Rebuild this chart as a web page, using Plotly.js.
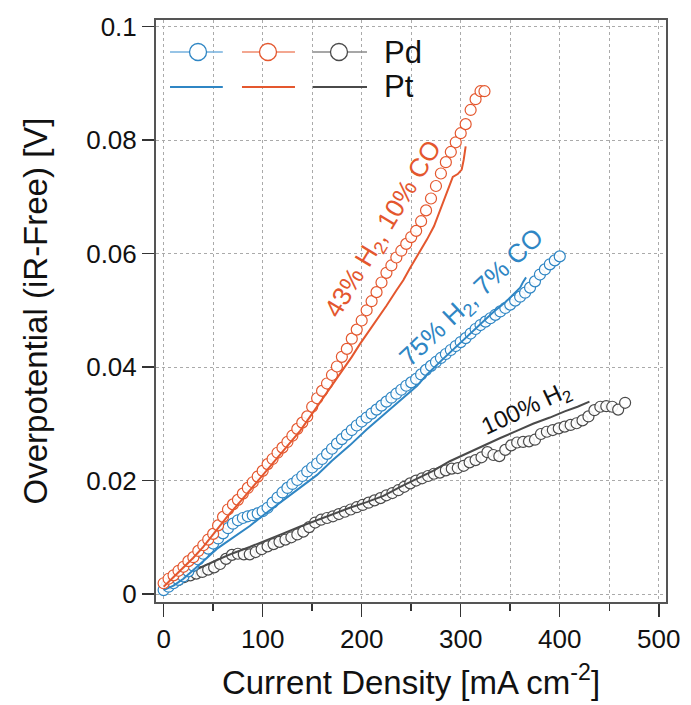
<!DOCTYPE html>
<html><head><meta charset="utf-8">
<script src="https://cdn.plot.ly/plotly-3.0.1.min.js"></script>
<style>html,body{margin:0;padding:0;background:#fff;}#chart{width:691px;height:705px;}</style>
</head><body><div id="chart"></div>
<script>
// ---- data ----
const orangePdX = [0,5,10,15,20,25,30,35,40,45,50,55,60,65,70,75,80,85,90,95,100,105,110,115,120,125,130,135,140,145,150,155,160,165,170,175,180,185,190,195,200,205,210,215,220,225,230,235,240,245,250,255,260,265,270,275,280,285,290,295,300,305,310,315,320,324];
const orangePdY = [0.0019,0.0027,0.0033,0.0041,0.0048,0.0058,0.0065,0.0076,0.0086,0.0096,0.0106,0.0121,0.0136,0.0149,0.0158,0.0166,0.0177,0.0187,0.0197,0.0207,0.0217,0.0229,0.0238,0.0249,0.0258,0.0268,0.0279,0.0291,0.0302,0.0313,0.0330,0.0345,0.0358,0.0371,0.0386,0.0401,0.0418,0.0432,0.0450,0.0466,0.0482,0.0500,0.0516,0.0532,0.0549,0.0566,0.0579,0.0593,0.0605,0.0617,0.0629,0.0640,0.0657,0.0676,0.0697,0.0719,0.0741,0.0761,0.0779,0.0796,0.0812,0.0828,0.0853,0.0872,0.0886,0.0886];
const orangePtX = [0,10,20,30,40,54,65,80,98,110,125,138,150,168,180,190,198,207,215,225,235,242,249,257,266,273,281,286,292,297,301,303,305];
const orangePtY = [0.0013,0.0030,0.0047,0.0064,0.0083,0.0115,0.0138,0.0168,0.0205,0.0230,0.0260,0.0288,0.0318,0.0362,0.0392,0.0418,0.0440,0.0462,0.0482,0.0508,0.0535,0.0553,0.0575,0.0598,0.0625,0.0648,0.0685,0.0708,0.0735,0.0740,0.0748,0.0765,0.0789];
const bluePdX = [0,5,10,15,20,25,30,35,40,45,50,55,60,65,70,75,80,85,90,95,100,105,110,115,120,125,130,135,140,145,150,155,160,165,170,175,180,185,190,195,200,205,210,215,220,225,230,235,240,245,250,255,260,265,270,275,280,285,290,295,300,305,310,315,320,325,330,335,340,345,350,355,360,365,370,375,380,385,390,395,400];
const bluePdY = [0.0007,0.0013,0.0019,0.0025,0.0031,0.0040,0.0050,0.0061,0.0071,0.0080,0.0089,0.0098,0.0107,0.0116,0.0124,0.0130,0.0134,0.0137,0.0139,0.0142,0.0146,0.0152,0.0161,0.0170,0.0179,0.0187,0.0194,0.0201,0.0208,0.0216,0.0223,0.0230,0.0238,0.0247,0.0256,0.0265,0.0273,0.0281,0.0289,0.0297,0.0304,0.0311,0.0318,0.0325,0.0332,0.0339,0.0346,0.0353,0.0360,0.0367,0.0373,0.0379,0.0387,0.0395,0.0402,0.0409,0.0416,0.0423,0.0430,0.0437,0.0444,0.0451,0.0459,0.0467,0.0474,0.0480,0.0486,0.0492,0.0498,0.0504,0.0510,0.0517,0.0524,0.0531,0.0540,0.0551,0.0563,0.0572,0.0581,0.0588,0.0595];
const bluePtX = [0,10,20,30,40,54,70,87,100,121,138,155,170,188,205,222,240,256,266,282,299,315,333,345,353,360,363,366];
const bluePtY = [0.0007,0.0015,0.0027,0.0042,0.0058,0.0080,0.0100,0.0120,0.0138,0.0165,0.0188,0.0210,0.0235,0.0262,0.0290,0.0315,0.0343,0.0367,0.0387,0.0414,0.0442,0.0468,0.0497,0.0514,0.0528,0.0540,0.0550,0.0558];
const grayPdX = [3,9,15,21,27,33,39,45,51,57,63,69,75,81,87,93,99,105,111,117,123,129,135,141,147,153,159,165,171,177,183,189,195,201,207,213,219,225,231,237,243,249,255,261,267,273,279,285,291,297,303,309,315,321,327,333,339,345,351,357,363,369,375,381,387,393,399,405,411,417,423,429,435,441,447,453,459,466];
const grayPdY = [0.0015,0.0020,0.0025,0.0030,0.0033,0.0036,0.0039,0.0043,0.0047,0.0053,0.0062,0.0069,0.0071,0.0070,0.0070,0.0074,0.0079,0.0084,0.0088,0.0092,0.0096,0.0100,0.0105,0.0110,0.0118,0.0126,0.0131,0.0134,0.0137,0.0141,0.0145,0.0149,0.0153,0.0157,0.0161,0.0165,0.0169,0.0174,0.0178,0.0183,0.0189,0.0195,0.0200,0.0204,0.0208,0.0212,0.0214,0.0218,0.0221,0.0222,0.0226,0.0232,0.0236,0.0241,0.0250,0.0245,0.0243,0.0254,0.0262,0.0267,0.0268,0.0269,0.0272,0.0282,0.0286,0.0289,0.0292,0.0295,0.0298,0.0301,0.0306,0.0313,0.0324,0.0330,0.0331,0.0330,0.0325,0.0337];
const grayPtX = [0,10,20,35,54,70,87,105,121,138,155,170,188,205,222,239,255,272,289,306,323,340,356,373,390,405,418,430];
const grayPtY = [0.0013,0.0020,0.0030,0.0045,0.0060,0.0072,0.0083,0.0095,0.0107,0.0119,0.0130,0.0141,0.0152,0.0162,0.0173,0.0189,0.0202,0.0217,0.0234,0.0248,0.0262,0.0275,0.0287,0.0300,0.0311,0.0322,0.0330,0.0339];

const xTitle = 'Current Density [mA cm<sup>-2</sup>]';
const yTitle = 'Overpotential (iR-Free) [V]';
const labelOrange = '43% H<sub>2</sub>, 10% CO';
const labelBlue = '75% H<sub>2</sub>, 7% CO';
const labelGray = '100% H<sub>2</sub>';

// ---- styles ----
const C_ORANGE = '#e4572e', C_BLUE = '#2f86c4', C_GRAY = '#4a4a4a';
const FONT = 'Liberation Sans, Arial, Helvetica, sans-serif';

function pd(x, y, c) {
  return {x: x, y: y, type: 'scatter', mode: 'markers', showlegend: false, hoverinfo: 'skip',
    marker: {symbol: 'circle', size: 11, color: 'rgba(255,255,255,0.9)', line: {color: c, width: 1.2}}};
}
function pt(x, y, c) {
  return {x: x, y: y, type: 'scatter', mode: 'lines', showlegend: false, hoverinfo: 'skip',
    line: {color: c, width: 2}};
}
const traces = [
  pd(grayPdX, grayPdY, C_GRAY), pt(grayPtX, grayPtY, C_GRAY),
  pd(bluePdX, bluePdY, C_BLUE), pt(bluePtX, bluePtY, C_BLUE),
  pd(orangePdX, orangePdY, C_ORANGE), pt(orangePtX, orangePtY, C_ORANGE)
];

// legend drawn with shapes (paper coords)
const legendRows = [0.945, 0.885];
const legendCols = [[0.0275, 0.131, 0.0824, C_BLUE, '#74b1de'], [0.1686, 0.2725, 0.2196, C_ORANGE, '#ef8a6c'], [0.3078, 0.4137, 0.3588, C_GRAY, '#8a8a8a']];
const shapes = [];
legendCols.forEach(c => {
  shapes.push({type: 'line', xref: 'paper', yref: 'paper', x0: c[0], x1: c[1], y0: legendRows[0], y1: legendRows[0], line: {color: c[4], width: 1.5}});
  shapes.push({type: 'circle', xref: 'paper', yref: 'paper', xsizemode: 'pixel', ysizemode: 'pixel', xanchor: c[2], yanchor: legendRows[0], x0: -8.5, x1: 8.5, y0: -8.5, y1: 8.5, fillcolor: '#fff', line: {color: c[3], width: 1.3}});
  shapes.push({type: 'line', xref: 'paper', yref: 'paper', x0: c[0], x1: c[1], y0: legendRows[1], y1: legendRows[1], line: {color: c[3], width: 2}});
});

const annotations = [
  {xref: 'paper', yref: 'paper', x: 0.443, y: legendRows[0], text: 'Pd', showarrow: false, xanchor: 'left', yanchor: 'middle', font: {family: FONT, size: 31, color: '#111'}},
  {xref: 'paper', yref: 'paper', x: 0.443, y: legendRows[1], text: 'Pt', showarrow: false, xanchor: 'left', yanchor: 'middle', font: {family: FONT, size: 31, color: '#111'}},
  {x: 222, y: 0.0643, text: labelOrange, showarrow: false, textangle: -59, font: {family: FONT, size: 26, color: C_ORANGE}},
  {x: 311, y: 0.0521, text: labelBlue, showarrow: false, textangle: -43.5, font: {family: FONT, size: 26, color: C_BLUE}},
  {x: 366, y: 0.0326, text: labelGray, showarrow: false, textangle: -25, font: {family: FONT, size: 24, color: '#111'}}
];

const layout = {
  width: 691, height: 705,
  margin: {l: 156, r: 25, t: 20, b: 103},
  paper_bgcolor: '#fff', plot_bgcolor: '#fff',
  font: {family: FONT, color: '#111'},
  showlegend: false,
  xaxis: {
    range: [-7.7, 507.3], dtick: 100, tick0: 0,
    showline: true, mirror: true, linecolor: '#555', linewidth: 2,
    ticks: 'outside', ticklen: 13, tickwidth: 1.5, tickcolor: '#333',
    showgrid: true, gridcolor: '#aaa', gridwidth: 1, griddash: 'dot',
    zeroline: false,
    minor: {dtick: 50, ticks: 'outside', ticklen: 7, tickwidth: 1.5, tickcolor: '#333', showgrid: true, gridcolor: '#aaa', gridwidth: 1, griddash: 'dot'},
    tickfont: {family: FONT, size: 26, color: '#111'},
    title: {text: xTitle, font: {family: FONT, size: 33, color: '#111'}, standoff: 18}
  },
  yaxis: {
    range: [-0.0014, 0.10115], dtick: 0.02, tick0: 0,
    showline: true, mirror: true, linecolor: '#555', linewidth: 2,
    ticks: 'outside', ticklen: 12, tickwidth: 1.5, tickcolor: '#333',
    showgrid: true, gridcolor: '#aaa', gridwidth: 1, griddash: 'dot',
    zeroline: false,
    tickfont: {family: FONT, size: 26, color: '#111'},
    title: {text: yTitle, font: {family: FONT, size: 33, color: '#111'}, standoff: 29}
  },
  shapes: shapes,
  annotations: annotations
};

Plotly.newPlot('chart', traces, layout, {displayModeBar: false, staticPlot: true});
</script>
</body></html>
